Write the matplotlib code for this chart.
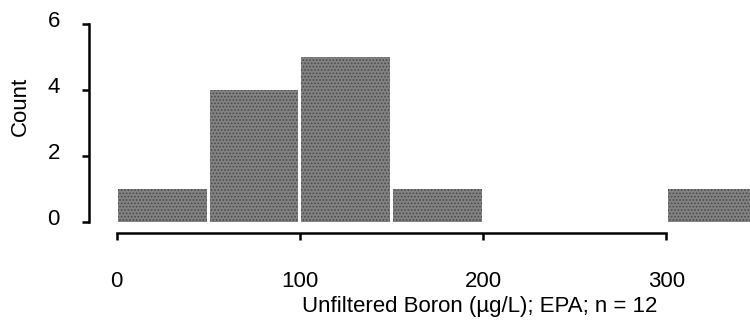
import numpy as np
import matplotlib.transforms as mtransforms
from matplotlib import pyplot as plt

plt.rcParams["font.family"] = ["Liberation Sans", "DejaVu Sans"]
plt.rcParams["hatch.linewidth"] = 0.8

bin_edges = [0, 50, 100, 150, 200, 250, 300, 350]
counts = [1, 4, 5, 1, 0, 0, 1]
xticks = [0, 100, 200, 300]
yticks = [0, 2, 4, 6]

fig = plt.figure(figsize=(7.5, 3.34), dpi=100)
ax = fig.add_axes([0.1187, 0.302, 0.8813, 0.626])

# small white gap between neighbouring bars
gap = 1.6
lefts = np.array(bin_edges[:-1]) + gap / 2
widths = np.diff(bin_edges) - gap
ax.bar(lefts, counts, width=widths, align="edge", color="#828282",
       edgecolor="#4a4a4a", linewidth=0, hatch=".....")

ax.set_xlim(-15, 345.6)
ax.set_ylim(-0.33, 6)

for s in ["top", "right"]:
    ax.spines[s].set_visible(False)
ax.spines["left"].set_bounds(0, 6)
ax.spines["bottom"].set_bounds(0, 300)
ax.spines["left"].set_linewidth(1.8)
ax.spines["bottom"].set_linewidth(1.8)

ax.set_xticks(xticks)
ax.set_yticks(yticks)
ax.tick_params(direction="out", length=5, width=1.8, labelsize=16)
ax.tick_params(axis="x", pad=22)
ax.tick_params(axis="y", pad=16)

# y tick labels sit a little above their ticks
shift = mtransforms.ScaledTranslation(0, 5 / 100, fig.dpi_scale_trans)
for lbl in ax.get_yticklabels():
    lbl.set_transform(lbl.get_transform() + shift)

ax.set_xlabel("Unfiltered Boron (\u00b5g/L); EPA; n = 12", fontsize=16)
ax.set_ylabel("Count", fontsize=16)
ax.xaxis.set_label_coords(0.5915, -0.30)
ax.yaxis.set_label_coords(-0.088, 0.608)

fig.savefig("out.png", dpi=100)
